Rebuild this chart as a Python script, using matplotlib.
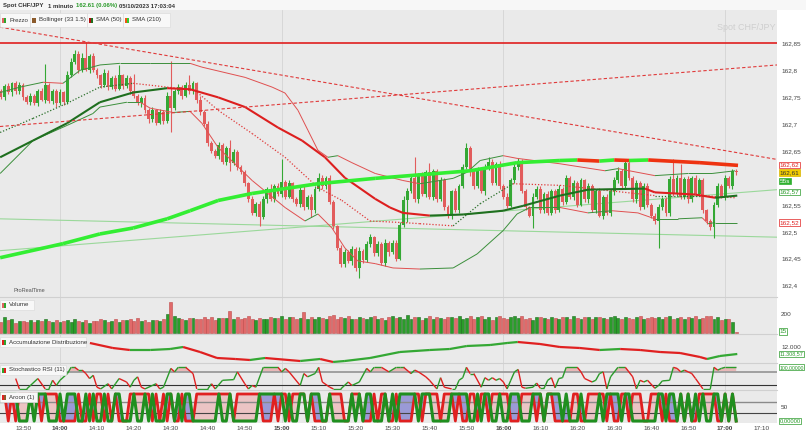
import matplotlib
matplotlib.use('Agg')
import matplotlib.pyplot as plt
import matplotlib.patches as mpatches
from matplotlib.collections import LineCollection
import numpy as np

plt.rcParams['font.family'] = ['Liberation Sans', 'DejaVu Sans']

W, H = 806, 433

# minuti rispetto alle 14:00, una candela al minuto (13:44 -> 17:03)
minutes = np.arange(-16, 184)
first_open = 162.760
closes = [
    162.750, 162.770, 162.758, 162.775, 162.760, 162.772, 162.750, 162.740, 162.752, 162.738,
    162.760, 162.745, 162.772, 162.742, 162.760, 162.738, 162.758, 162.740, 162.790, 162.815,
    162.830, 162.800, 162.822, 162.800, 162.825, 162.800, 162.790, 162.772, 162.795, 162.768,
    162.785, 162.765, 162.790, 162.770, 162.785, 162.760, 162.752, 162.738, 162.748, 162.725,
    162.708, 162.725, 162.702, 162.722, 162.705, 162.752, 162.730, 162.760, 162.768, 162.752,
    162.772, 162.760, 162.775, 162.745, 162.722, 162.700, 162.665, 162.650, 162.640, 162.660,
    162.630, 162.655, 162.628, 162.648, 162.620, 162.610, 162.590, 162.560, 162.535, 162.552,
    162.528, 162.560, 162.580, 162.560, 162.585, 162.570, 162.592, 162.565, 162.590, 162.560,
    162.552, 162.578, 162.545, 162.565, 162.540, 162.580, 162.600, 162.585, 162.600, 162.555,
    162.510, 162.470, 162.440, 162.462, 162.445, 162.468, 162.432, 162.465, 162.448, 162.478,
    162.490, 162.460, 162.478, 162.442, 162.480, 162.462, 162.480, 162.450, 162.512, 162.558,
    162.576, 162.600, 162.560, 162.605, 162.570, 162.610, 162.565, 162.612, 162.560, 162.595,
    162.545, 162.530, 162.575, 162.540, 162.585, 162.620, 162.655, 162.610, 162.585, 162.615,
    162.575, 162.620, 162.630, 162.590, 162.625, 162.585, 162.565, 162.548, 162.595, 162.620,
    162.630, 162.575, 162.545, 162.530, 162.565, 162.580, 162.540, 162.570, 162.535, 162.575,
    162.540, 162.580, 162.555, 162.600, 162.565, 162.590, 162.550, 162.595, 162.560, 162.585,
    162.540, 162.575, 162.530, 162.565, 162.535, 162.575, 162.595, 162.612, 162.585, 162.628,
    162.600, 162.560, 162.590, 162.545, 162.585, 162.550, 162.530, 162.520, 162.545, 162.560,
    162.535, 162.598, 162.570, 162.600, 162.565, 162.598, 162.560, 162.600, 162.570, 162.595,
    162.540, 162.520, 162.508, 162.550, 162.585, 162.565, 162.600, 162.585, 162.612, 162.610,
]
# stoppini (in millesimi di yen)
up_wick = [
    5, 4, 6, 3, 5, 6, 3, 4, 5, 3,   4, 6, 38, 3, 5, 4, 6, 3, 8, 6,
    7, 4, 9, 30, 5, 6, 4, 3, 6, 5,   4, 6, 19, 3, 5, 4, 33, 4, 3, 5,
    4, 6, 3, 5, 4, 7, 65, 5, 6, 4,   5, 19, 4, 3, 6, 4, 5, 3, 4, 6,
    5, 4, 15, 6, 3, 4, 5, 3, 6, 4,   5, 6, 3, 8, 4, 5, 42, 4, 6, 3,
    4, 5, 6, 3, 5, 4, 8, 5, 3, 6,    4, 3, 5, 6, 4, 5, 3, 6, 4, 5,
    6, 3, 5, 4, 6, 3, 5, 4, 6, 8,    5, 4, 38, 3, 6, 4, 18, 5, 4, 6,
    4, 5, 3, 6, 4, 5, 9, 4, 6, 5,    3, 6, 8, 4, 5, 6, 3, 7, 4, 5,
    6, 4, 5, 3, 6, 4, 5, 3, 6, 4,    5, 6, 3, 5, 4, 6, 4, 5, 3, 6,
    4, 5, 6, 3, 5, 4, 6, 8, 5, 4,    6, 3, 5, 4, 6, 5, 3, 4, 6, 5,
    4, 6, 37, 5, 25, 4, 6, 3, 5, 4,  5, 3, 4, 6, 5, 4, 6, 3, 5, 4,
]
dn_wick = [
    4, 5, 3, 6, 4, 5, 6, 3, 5, 4,    5, 3, 6, 4, 5, 6, 4, 5, 3, 4,
    5, 6, 4, 3, 5, 4, 6, 5, 3, 6,    4, 5, 3, 6, 4, 5, 4, 3, 6, 5,
    6, 4, 5, 3, 6, 4, 46, 5, 4, 6,   3, 5, 4, 6, 5, 4, 6, 5, 3, 5,
    4, 6, 15, 4, 5, 3, 6, 5, 4, 6,   18, 4, 6, 3, 5, 4, 6, 5, 3, 4,
    5, 6, 4, 3, 13, 5, 4, 6, 5, 3,   5, 4, 6, 5, 3, 6, 4, 18, 5, 4,
    6, 5, 4, 3, 5, 6, 4, 5, 3, 4,    40, 5, 4, 6, 3, 5, 4, 6, 5, 3,
    5, 4, 6, 3, 5, 4, 3, 6, 5, 4,    4, 6, 5, 3, 4, 6, 5, 4, 3, 5,
    6, 4, 5, 3, 23, 4, 6, 5, 3, 4,   5, 3, 6, 4, 5, 6, 4, 3, 5, 6,
    4, 5, 3, 6, 4, 5, 6, 4, 3, 5,    5, 4, 6, 5, 3, 4, 5, 6, 50, 4,
    6, 5, 4, 3, 5, 4, 6, 5, 3, 4,    5, 6, 4, 20, 5, 3, 6, 4, 5, 4,
]
volumes = [
    120, 165, 140, 150, 110, 125, 130, 115, 140, 120,  135, 125, 150, 130, 120, 140, 115, 130, 135, 120,
    145, 130, 120, 140, 110, 130, 125, 150, 140, 120,  130, 145, 120, 135, 140, 150, 125, 160, 130, 140,
    120, 135, 140, 130, 145, 200, 325, 180, 160, 150,  140, 155, 160, 150, 145, 165, 150, 170, 140, 160,
    155, 160, 230, 150, 170, 145, 160, 175, 150, 140,  160, 150, 145, 170, 155, 160, 180, 150, 165, 170,
    150, 160, 220, 150, 165, 145, 170, 160, 150, 175,  185, 150, 165, 160, 175, 150, 145, 170, 160, 150,
    165, 175, 150, 160, 140, 170, 180, 155, 165, 150,  185, 150, 165, 170, 140, 160, 175, 150, 165, 155,
    150, 165, 170, 160, 175, 150, 160, 180, 150, 165,  175, 150, 165, 140, 170, 175, 160, 150, 165, 175,
    160, 175, 150, 160, 140, 165, 170, 155, 150, 165,  160, 150, 170, 165, 150, 175, 160, 150, 165, 170,
    150, 165, 170, 160, 150, 165, 175, 160, 150, 170,  160, 150, 165, 175, 150, 160, 170, 155, 165, 150,
    165, 175, 150, 160, 170, 150, 165, 160, 175, 150,  160, 175, 180, 150, 165, 140, 150, 145, 120, 15,
]

# indicatori (vertici)
sma210_t = [-16.2, 0.8, 10.8, 19.8, 29.0, 35.2, 42.8, 52.0, 60.9, 69.8, 85.3, 102.0, 111.0, 123.7,
            135.3, 140, 146, 150, 154, 159.2, 173.2, 183.5]
sma210_v = [162.452, 162.478, 162.496, 162.507, 162.524, 162.539, 162.558, 162.571, 162.580, 162.589,
            162.599, 162.608, 162.613, 162.628, 162.632, 162.633, 162.631, 162.633, 162.632, 162.633,
            162.628, 162.623]
sma50_t = [-16.2, -7.3, 1.9, 10.8, 19.8, 29.0, 35.2, 42.8, 50.1, 59.0, 65.5, 71.7, 77.1, 85.3, 89.3,
           92.8, 100.1, 109.1, 119.9, 125.3, 135.3, 142.9, 158.3, 161.0, 171.9, 177.3, 183.3]
sma50_v = [162.638, 162.669, 162.701, 162.740, 162.758, 162.766, 162.764, 162.749, 162.731, 162.693,
           162.669, 162.638, 162.600, 162.561, 162.545, 162.535, 162.530, 162.532, 162.539, 162.548,
           162.567, 162.578, 162.580, 162.573, 162.569, 162.563, 162.567]
bb_up_t = [-16.2, -10.8, -4.6, 0.8, 5.4, 10.8, 16.2, 24.4, 35.2, 38.4, 50.1, 57.4, 60.9, 64.4, 67.1,
           69.8, 72.5, 75.2, 79.0, 85.3, 92.8, 97.4, 106.4, 110.1, 113.7, 119.9, 123.7, 135.3, 147.5,
           151.0, 161.0, 170.0, 176.5, 182.7]
bb_up_v = [162.758, 162.768, 162.777, 162.775, 162.799, 162.809, 162.812, 162.812, 162.812, 162.805,
           162.786, 162.768, 162.757, 162.725, 162.688, 162.651, 162.638, 162.641, 162.628, 162.608,
           162.595, 162.589, 162.599, 162.610, 162.632, 162.641, 162.636, 162.626, 162.613, 162.617,
           162.604, 162.608, 162.608, 162.613]
bb_mid_t = [-16.2, -7.3, 1.9, 10.8, 19.8, 29.0, 36.5, 42.8, 52.0, 60.9, 69.8, 76.3, 83.9, 92.8, 97.4,
            106.4, 113.7, 122.6, 135.3, 161.0, 173.8, 182.7]
bb_mid_v = [162.684, 162.710, 162.738, 162.768, 162.775, 162.768, 162.762, 162.725, 162.682, 162.638,
            162.582, 162.558, 162.520, 162.517, 162.515, 162.511, 162.552, 162.589, 162.586, 162.567,
            162.567, 162.563]
bb_lo_t = [-16.2, -7.3, 1.9, 8.9, 10.8, 18.1, 21.7, 24.4, 30.6, 35.2, 38.4, 42.8, 52.0, 60.9, 66.3,
           69.8, 73.6, 77.1, 80.6, 85.3, 90.1, 97.4, 106.4, 112.9, 119.9, 123.7, 127.2, 135.3, 142.9,
           149.4, 156.4, 161.0, 167.3, 173.8, 175.4, 177.3, 183.3]
bb_lo_v = [162.608, 162.669, 162.697, 162.719, 162.731, 162.740, 162.740, 162.729, 162.721, 162.723,
           162.701, 162.656, 162.595, 162.545, 162.520, 162.533, 162.507, 162.470, 162.446, 162.441,
           162.433, 162.431, 162.433, 162.459, 162.502, 162.533, 162.545, 162.545, 162.535, 162.539,
           162.535, 162.524, 162.524, 162.526, 162.515, 162.517, 162.517]

# linee disegnate (estremi)
res_level = 162.85
red_desc = ([-16.24, 194.05], [162.879, 162.634])
red_asc = ([-16.24, 194.05], [162.695, 162.809])
green_asc = ([-16.24, 194.05], [162.465, 162.578])
green_desc = ([-16.24, 194.05], [162.524, 162.490])

acc_t = [8.1, 14.3, 18.9, 24.4, 29.8, 33.3, 37.9, 42.5, 47.4, 51.4, 55.5, 65.0, 70.4, 73.9, 77.1, 83.9,
         92.0, 100.1, 105.5, 110.1, 116.4, 121.0, 123.9, 129.9, 135.3, 140.7, 146.1, 151.6, 157.0,
         162.4, 167.8, 173.2, 175.1, 178.6, 183.3]
acc_v = [12400, 11900, 11700, 11700, 11800, 12000, 11500, 10900, 10800, 10700, 10900, 10600, 10800,
         10500, 10600, 10900, 11500, 11700, 11800, 12100, 12200, 12400, 12500, 12300, 12000, 11900,
         11700, 11800, 11700, 11500, 11400, 11000, 10800, 11100, 11300]

stoch_bar = [4, 5, 7, 10, 12, 13, 14, 15, 16, 18, 19, 20, 21, 22, 23, 24, 25, 26, 27, 29, 30, 31, 32, 34,
             35, 36, 37, 38, 39, 42, 43, 44, 46, 47, 48, 50, 52, 53, 56, 57, 58, 60, 63, 64, 66, 67, 68,
             69, 71, 75, 76, 77, 78, 81, 82, 83, 85, 86, 87, 89, 90, 92, 93, 94, 95, 97, 99, 100, 101,
             103, 105, 107, 108, 109, 111, 112, 113, 115, 116, 118, 119, 120, 122, 123, 124, 125, 126,
             127, 128, 130, 131, 132, 133, 134, 135, 136, 137, 138, 139, 140, 141, 142, 144, 145, 146,
             147, 148, 149, 150, 151, 152, 153, 156, 157, 158, 160, 161, 162, 163, 164, 165, 167, 169,
             171, 172, 173, 174, 175, 177, 178, 179, 181, 182, 183, 184, 185, 186, 187, 188, 190, 192,
             193, 194, 195, 196, 199]
stoch_val = [48, 0, 0, 48, 0, 0, 40, 16, 40, 71, 100, 100, 87, 87, 71, 48, 63, 8, 0, 24, 0, 24, 48, 32,
             8, 40, 56, 8, 0, 24, 0, 8, 95, 79, 100, 100, 71, 0, 0, 24, 0, 40, 43, 79, 24, 0, 16,
             8, 100, 100, 79, 95, 79, 16, 71, 56, 71, 100, 32, 8, 0, 0, 16, 32, 16, 32, 95, 79, 100,
             100, 79, 100, 100, 100, 71, 87, 79, 56, 40, 0, 52, 8, 0, 0, 40, 52, 100,
             71, 71, 8, 52, 40, 52, 40, 48, 32, 0, 40, 79, 90, 8, 3, 8, 27, 3,
             3, 40, 52, 5, 48, 52, 100, 100, 79, 48, 32, 40, 71, 79, 0, 56, 100, 100,
             56, 0, 40, 32, 40, 3, 16, 37, 40, 100, 95, 79, 87, 79, 71, 48, 0, 0,
             100, 87, 95, 100, 100]

hour_ticks = list(range(-10, 200, 10))
tick_labels = ['13:50', '14:00', '14:10', '14:20', '14:30', '14:40', '14:50', '15:00', '15:10', '15:20',
               '15:30', '15:40', '15:50', '16:00', '16:10', '16:20', '16:30', '16:40', '16:50', '17:00', '17:10']
price_ticks = [162.4, 162.45, 162.5, 162.55, 162.65, 162.7, 162.75, 162.8, 162.85]

GREEN = '#34a834'
RED = '#e25c5c'
BG = '#eaeaea'
FS = 4.6

fig = plt.figure(figsize=(W / 100, H / 100), dpi=100)
fig.patch.set_facecolor('white')


def box(top, bottom):
    return [0, 1 - bottom / H, 777 / W, (bottom - top) / H]


ax = fig.add_axes(box(10, 297))
axv = fig.add_axes(box(297, 334))
axc = fig.add_axes(box(334, 363))
axs = fig.add_axes(box(363, 390))
axa = fig.add_axes(box(390, 423))
panels = [ax, axv, axc, axs, axa]

for a in panels:
    a.set_facecolor(BG)
    a.set_xlim(-16.24, 194.05)
    for s in a.spines.values():
        s.set_visible(False)
    a.spines['top'].set_visible(a is not ax)
    a.spines['top'].set_color('#d0d0d0')
    a.spines['top'].set_linewidth(0.8)
    a.yaxis.tick_right()
    a.tick_params(length=0, labelsize=FS, labelcolor='#444', pad=3)
    for m in (0, 60, 120, 180):
        a.axvline(m, color='#d4d4d4', lw=0.6, zorder=0)
    if a is not axa:
        a.set_xticks([])


def slope_line(a, t, v, up_col, dn_col, lw, ls='-', z=3):
    t = np.asarray(t, float)
    v = np.asarray(v, float)
    segs = np.stack([np.column_stack([t[:-1], v[:-1]]), np.column_stack([t[1:], v[1:]])], axis=1)
    cols = [up_col if b >= c else dn_col for c, b in zip(v[:-1], v[1:])]
    a.add_collection(LineCollection(segs, colors=cols, linewidths=lw, linestyles=ls, zorder=z))


def tag(a, y, s, fg, bg='white', ec=None, fs=FS):
    a.text(1.003, y, s, transform=a.get_yaxis_transform(), fontsize=fs, color=fg, va='center', ha='left',
           bbox=dict(boxstyle='square,pad=0.12', fc=bg, ec=ec or fg, lw=0.5), clip_on=False, zorder=10)


# --- prezzo ---
closes_a = np.array(closes)
opens = np.r_[first_open, closes_a[:-1]]
rise = closes_a >= opens
hi = np.maximum(opens, closes_a) + np.array(up_wick) * 0.001
lo = np.minimum(opens, closes_a) - np.array(dn_wick) * 0.001
col = np.where(rise, GREEN, RED)

ax.set_ylim(162.3792, 162.9108)
ax.plot(*green_asc, color='#9ad89a', lw=0.8, zorder=1)
ax.plot(*green_desc, color='#9ad89a', lw=0.8, zorder=1)
ax.vlines(minutes, lo, hi, colors=col, lw=0.8, zorder=2)
ax.bar(minutes, np.maximum(np.abs(closes_a - opens), 0.0015), bottom=np.minimum(opens, closes_a),
       width=0.78, color=col, lw=0, zorder=2)

slope_line(ax, bb_up_t, bb_up_v, '#3b8f3b', '#e05050', 0.7)
slope_line(ax, bb_lo_t, bb_lo_v, '#3b8f3b', '#e05050', 0.7)
slope_line(ax, bb_mid_t, bb_mid_v, '#2a6f2a', '#e03a3a', 0.9, ls=(0, (1, 1.5)))
slope_line(ax, sma50_t, sma50_v, '#1f6f1f', '#dd1f1f', 1.5)
slope_line(ax, sma210_t, sma210_v, '#33ee33', '#ee3311', 2.6, z=4)

ax.axhline(res_level, color='#e02020', lw=1.2, zorder=3)
ax.plot(*red_desc, color='#e03a3a', lw=0.8, ls=(0, (3, 2)), zorder=3)
ax.plot(*red_asc, color='#e03a3a', lw=0.8, ls=(0, (3, 2)), zorder=3)

ax.set_yticks(price_ticks)
ax.set_yticklabels([f'{p:g}'.replace('.', ',') for p in price_ticks])
tag(ax, 162.624, '162,62', '#e02020')
tag(ax, 162.610, '162,61', '#333', bg='#f2cc00', ec='#d8b400')
tag(ax, 162.594, '55s', 'white', bg='#2fb02f', ec='#2fb02f')
tag(ax, 162.574, '162,57', '#2a9a2a')
tag(ax, 162.517, '162,52', '#e02020')
ax.text(0.998, 0.938, 'Spot CHF/JPY', transform=ax.transAxes, ha='right', va='center', fontsize=6.5,
        color='#cfcfcf', zorder=1)

# --- volume ---
axv.bar(minutes, volumes, width=0.8, color=np.where(rise, '#2a9d2a', '#e06a6a'),
        edgecolor=np.where(rise, '#1c6b1c', '#c04a4a'), lw=0.4)
axv.set_ylim(-10, 378)
axv.set_yticks([200])
axv.set_yticklabels(['200'])
tag(axv, volumes[-1], '15', '#2a9a2a')

# --- accumulazione distribuzione ---
axc.set_ylim(10400, 13300)
slope_line(axc, acc_t, acc_v, GREEN, '#e02020', 1.6)
axc.set_yticks([12000])
axc.set_yticklabels(['12.000'])
tag(axc, 11308.57, '11.308,57', '#2a9a2a', fs=3.9)

# --- stocastico RSI ---
st_t = np.array(stoch_bar) - 16
st_v = np.array(stoch_val, float)
axs.set_ylim(-5, 120)
axs.fill_between(st_t, st_v, 80, where=st_v > 80, interpolate=True, color='#e8b8b8', lw=0, zorder=1)
axs.axhline(80, color='#9a9a9a', lw=1.3, zorder=2)
axs.axhline(20, color='#333333', lw=0.8, zorder=2)
slope_line(axs, st_t, st_v, '#2a9a2a', '#e02020', 1.0)
axs.set_yticks([])
tag(axs, 100, '100,00000', '#2a9a2a', fs=3.7)

# --- aroon (1) ---
hi_prev = np.r_[hi[0], hi[:-1]]
lo_prev = np.r_[lo[0], lo[:-1]]
aroon_up = np.where(hi >= hi_prev, 100.0, 0.0)
aroon_dn = np.where(lo <= lo_prev, 100.0, 0.0)
axa.set_ylim(-7.4, 114.8)
axa.fill_between(minutes, aroon_up, aroon_dn, where=aroon_up > aroon_dn, interpolate=True,
                 color='#9a9ad6', lw=0, zorder=1)
axa.fill_between(minutes, aroon_up, aroon_dn, where=aroon_dn > aroon_up, interpolate=True,
                 facecolor='#ebc4c4', edgecolor='#c98080', linestyle='--', lw=0.6, zorder=1)
axa.axhline(70, color='#8a8a8a', lw=1.0, zorder=2)
axa.axhline(30, color='#444444', lw=0.8, zorder=2)
axa.plot(minutes, aroon_dn, color='#e02020', lw=2.0, zorder=3)
axa.plot(minutes, aroon_up, color='#1f8f1f', lw=2.2, zorder=3)
axa.set_yticks([50])
axa.set_yticklabels(['50'])
tag(axa, 0, '0,00000', '#2a9a2a', fs=4.2)

axa.set_xticks(hour_ticks)
axa.set_xticklabels(tick_labels)
axa.tick_params(axis='x', pad=2, labelsize=FS)
for lab in axa.get_xticklabels():
    if lab.get_text().endswith(':00'):
        lab.set_fontweight('bold')


# --- intestazione e legende ---
def fx(x):
    return x / W


def fy(y):
    return 1 - y / H


fig.add_artist(mpatches.Rectangle((0, fy(10)), 1, 10 / H, transform=fig.transFigure, fc='#f7f7f7', lw=0))
hdr = dict(fontsize=4.3, fontweight='bold', va='center', color='#333')
fig.text(fx(3), fy(6), 'Spot CHF/JPY', **hdr)
fig.text(fx(48), fy(6), '1 minuto', **hdr)
fig.text(fx(76), fy(6), '162.61 (0.06%)', **{**hdr, 'color': '#2a9a2a'})
fig.text(fx(119), fy(6), '05/10/2023 17:03:04', **hdr)


def legend_box(x0, x1, y0, y1, icon, text):
    fig.add_artist(mpatches.Rectangle((fx(x0), fy(y1)), (x1 - x0) / W, (y1 - y0) / H,
                                      transform=fig.transFigure, fc='#f8f8f8', ec='#dcdcdc', lw=0.5, zorder=5))
    for k, c in enumerate(icon):
        fig.add_artist(mpatches.Rectangle((fx(x0 + 2 + 2 * k), fy((y0 + y1) / 2 + 2.5)), 2 / W, 5 / H,
                                          transform=fig.transFigure, fc=c, lw=0, zorder=6))
    fig.text(fx(x0 + 3 + 2 * len(icon) + 2), fy((y0 + y1) / 2), text, fontsize=4.4, color='#333',
             va='center', zorder=7)


legend_box(0, 30, 13, 27, ['#e06262', '#2fa52f'], 'Prezzo')
legend_box(30, 87, 13, 27, ['#8b5a2b', '#8b5a2b'], 'Bollinger (33 1.5)')
legend_box(87, 123, 13, 27, ['#b01010', '#1f6f1f'], 'SMA (50)')
legend_box(123, 170, 13, 27, ['#ee5511', '#33cc33'], 'SMA (210)')

fig.text(fx(13), fy(291), 'ProRealTime', fontsize=4.0, color='#555', va='center')
legend_box(0, 34, 300, 310, ['#e06262', '#2fa52f'], 'Volume')
legend_box(0, 86, 337, 347, ['#e02020', '#2fa52f'], 'Accumulazione Distribuzione')
legend_box(0, 66, 365, 375, ['#2fa52f', '#e02020'], 'Stochastico RSI (11)')
legend_box(0, 37, 392, 402, ['#e02020', '#8b5a2b'], 'Aroon (1)')

fig.savefig('out.png', dpi=100, facecolor='white')
